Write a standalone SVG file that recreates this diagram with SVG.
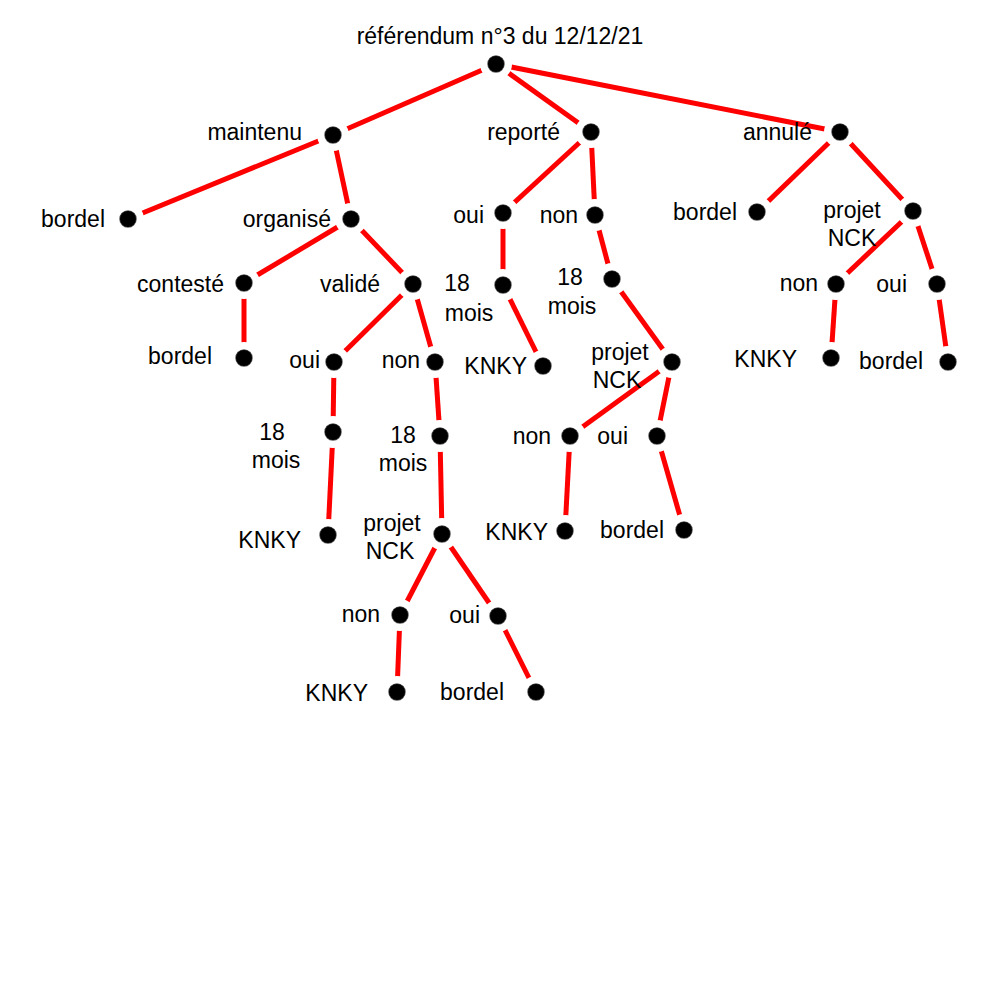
<svg xmlns="http://www.w3.org/2000/svg" width="1000" height="1000" viewBox="0 0 1000 1000">
<style>
.e line{stroke:#f00;stroke-width:5}
.n circle{fill:#000;stroke:#fff;stroke-width:16;paint-order:stroke}
.n circle.d{fill:#000;stroke:#555;stroke-width:1.5}
text{font-family:"Liberation Sans",Arial,sans-serif;font-size:23px;fill:#000}
.r{text-anchor:end}.c{text-anchor:middle}
</style>
<rect width="1000" height="1000" fill="#fff"/>
<g class="e">
<line x1="496" y1="64" x2="333" y2="135"/><line x1="496" y1="64" x2="591" y2="132"/><line x1="496" y1="64" x2="840" y2="132"/>
<line x1="333" y1="135" x2="128" y2="219"/><line x1="333" y1="135" x2="351" y2="219"/>
<line x1="591" y1="132" x2="503" y2="213"/><line x1="591" y1="132" x2="595" y2="215"/>
<line x1="840" y1="132" x2="757" y2="212"/><line x1="840" y1="132" x2="913" y2="211"/>
<line x1="351" y1="219" x2="244" y2="283"/><line x1="351" y1="219" x2="413" y2="284"/>
<line x1="503" y1="213" x2="503" y2="285"/><line x1="595" y1="215" x2="612" y2="279"/>
<line x1="913" y1="211" x2="836" y2="284"/><line x1="913" y1="211" x2="937" y2="284"/>
<line x1="244" y1="283" x2="244" y2="358"/><line x1="413" y1="284" x2="334" y2="362"/><line x1="413" y1="284" x2="435" y2="362"/>
<line x1="503" y1="285" x2="543" y2="366"/><line x1="612" y1="279" x2="672" y2="362"/>
<line x1="836" y1="284" x2="831" y2="358"/><line x1="937" y1="284" x2="948" y2="362"/>
<line x1="334" y1="362" x2="333" y2="432"/><line x1="435" y1="362" x2="440" y2="436"/>
<line x1="672" y1="362" x2="570" y2="436"/><line x1="672" y1="362" x2="657" y2="436"/>
<line x1="333" y1="432" x2="328" y2="535"/><line x1="440" y1="436" x2="442" y2="534"/>
<line x1="570" y1="436" x2="565" y2="531"/><line x1="657" y1="436" x2="684" y2="530"/>
<line x1="442" y1="534" x2="400" y2="615"/><line x1="442" y1="534" x2="498" y2="616"/>
<line x1="400" y1="615" x2="397" y2="692"/><line x1="498" y1="616" x2="536" y2="692"/>
</g>
<g class="n">
<g id="root"><circle cx="496" cy="64" r="8"/><circle class="d" cx="496" cy="64" r="8"/><text class="c" x="500" y="44">référendum n°3 du 12/12/21</text></g>
<g id="maintenu"><circle cx="333" cy="135" r="8"/><circle class="d" cx="333" cy="135" r="8"/><text class="r" x="302" y="140">maintenu</text></g>
<g id="reporte"><circle cx="591" cy="132" r="8"/><circle class="d" cx="591" cy="132" r="8"/><text class="r" x="560" y="140">reporté</text></g>
<g id="annule"><circle cx="840" cy="132" r="8"/><circle class="d" cx="840" cy="132" r="8"/><text class="r" x="812" y="140">annulé</text></g>
<g id="bordel1"><circle cx="128" cy="219" r="8"/><circle class="d" cx="128" cy="219" r="8"/><text class="r" x="105" y="227">bordel</text></g>
<g id="organise"><circle cx="351" cy="219" r="8"/><circle class="d" cx="351" cy="219" r="8"/><text class="r" x="331" y="227">organisé</text></g>
<g id="oui1"><circle cx="503" cy="213" r="8"/><circle class="d" cx="503" cy="213" r="8"/><text class="r" x="484" y="223">oui</text></g>
<g id="non1"><circle cx="595" cy="215" r="8"/><circle class="d" cx="595" cy="215" r="8"/><text class="r" x="578" y="223">non</text></g>
<g id="bordel2"><circle cx="757" cy="212" r="8"/><circle class="d" cx="757" cy="212" r="8"/><text class="r" x="737" y="220">bordel</text></g>
<g id="nck1"><circle cx="913" cy="211" r="8"/><circle class="d" cx="913" cy="211" r="8"/><text class="c" x="852" y="218">projet</text><text class="c" x="852" y="246">NCK</text></g>
<g id="conteste"><circle cx="244" cy="283" r="8"/><circle class="d" cx="244" cy="283" r="8"/><text class="r" x="224" y="292">contesté</text></g>
<g id="valide"><circle cx="413" cy="284" r="8"/><circle class="d" cx="413" cy="284" r="8"/><text class="r" x="380" y="292">validé</text></g>
<g id="m1"><circle cx="503" cy="285" r="8"/><circle class="d" cx="503" cy="285" r="8"/><text class="c" x="457" y="291">18</text><text class="c" x="469" y="321">mois</text></g>
<g id="m2"><circle cx="612" cy="279" r="8"/><circle class="d" cx="612" cy="279" r="8"/><text class="c" x="570" y="285">18</text><text class="c" x="572" y="314">mois</text></g>
<g id="non2"><circle cx="836" cy="284" r="8"/><circle class="d" cx="836" cy="284" r="8"/><text class="r" x="818" y="291">non</text></g>
<g id="oui2"><circle cx="937" cy="284" r="8"/><circle class="d" cx="937" cy="284" r="8"/><text class="r" x="907" y="292">oui</text></g>
<g id="bordel3"><circle cx="244" cy="358" r="8"/><circle class="d" cx="244" cy="358" r="8"/><text class="r" x="212" y="364">bordel</text></g>
<g id="oui3"><circle cx="334" cy="362" r="8"/><circle class="d" cx="334" cy="362" r="8"/><text class="r" x="320" y="368">oui</text></g>
<g id="non3"><circle cx="435" cy="362" r="8"/><circle class="d" cx="435" cy="362" r="8"/><text class="r" x="420" y="368">non</text></g>
<g id="knky1"><circle cx="543" cy="366" r="8"/><circle class="d" cx="543" cy="366" r="8"/><text class="r" x="527" y="374">KNKY</text></g>
<g id="nck2"><circle cx="672" cy="362" r="8"/><circle class="d" cx="672" cy="362" r="8"/><text class="c" x="620" y="360">projet</text><text class="c" x="617" y="388">NCK</text></g>
<g id="knky2"><circle cx="831" cy="358" r="8"/><circle class="d" cx="831" cy="358" r="8"/><text class="r" x="797" y="367">KNKY</text></g>
<g id="bordel4"><circle cx="948" cy="362" r="8"/><circle class="d" cx="948" cy="362" r="8"/><text class="r" x="923" y="369">bordel</text></g>
<g id="m3"><circle cx="333" cy="432" r="8"/><circle class="d" cx="333" cy="432" r="8"/><text class="c" x="272" y="440">18</text><text class="c" x="276" y="468">mois</text></g>
<g id="m4"><circle cx="440" cy="436" r="8"/><circle class="d" cx="440" cy="436" r="8"/><text class="c" x="403" y="443">18</text><text class="c" x="403" y="471">mois</text></g>
<g id="non4"><circle cx="570" cy="436" r="8"/><circle class="d" cx="570" cy="436" r="8"/><text class="r" x="551" y="444">non</text></g>
<g id="oui4"><circle cx="657" cy="436" r="8"/><circle class="d" cx="657" cy="436" r="8"/><text class="r" x="628" y="444">oui</text></g>
<g id="knky3"><circle cx="328" cy="535" r="8"/><circle class="d" cx="328" cy="535" r="8"/><text class="r" x="301" y="548">KNKY</text></g>
<g id="nck3"><circle cx="442" cy="534" r="8"/><circle class="d" cx="442" cy="534" r="8"/><text class="c" x="392" y="531">projet</text><text class="c" x="390" y="559">NCK</text></g>
<g id="knky4"><circle cx="565" cy="531" r="8"/><circle class="d" cx="565" cy="531" r="8"/><text class="r" x="548" y="540">KNKY</text></g>
<g id="bordel5"><circle cx="684" cy="530" r="8"/><circle class="d" cx="684" cy="530" r="8"/><text class="r" x="664" y="538">bordel</text></g>
<g id="non5"><circle cx="400" cy="615" r="8"/><circle class="d" cx="400" cy="615" r="8"/><text class="r" x="380" y="622">non</text></g>
<g id="oui5"><circle cx="498" cy="616" r="8"/><circle class="d" cx="498" cy="616" r="8"/><text class="r" x="480" y="623">oui</text></g>
<g id="knky5"><circle cx="397" cy="692" r="8"/><circle class="d" cx="397" cy="692" r="8"/><text class="r" x="368" y="701">KNKY</text></g>
<g id="bordel6"><circle cx="536" cy="692" r="8"/><circle class="d" cx="536" cy="692" r="8"/><text class="r" x="504" y="700">bordel</text></g>
</g>
</svg>
